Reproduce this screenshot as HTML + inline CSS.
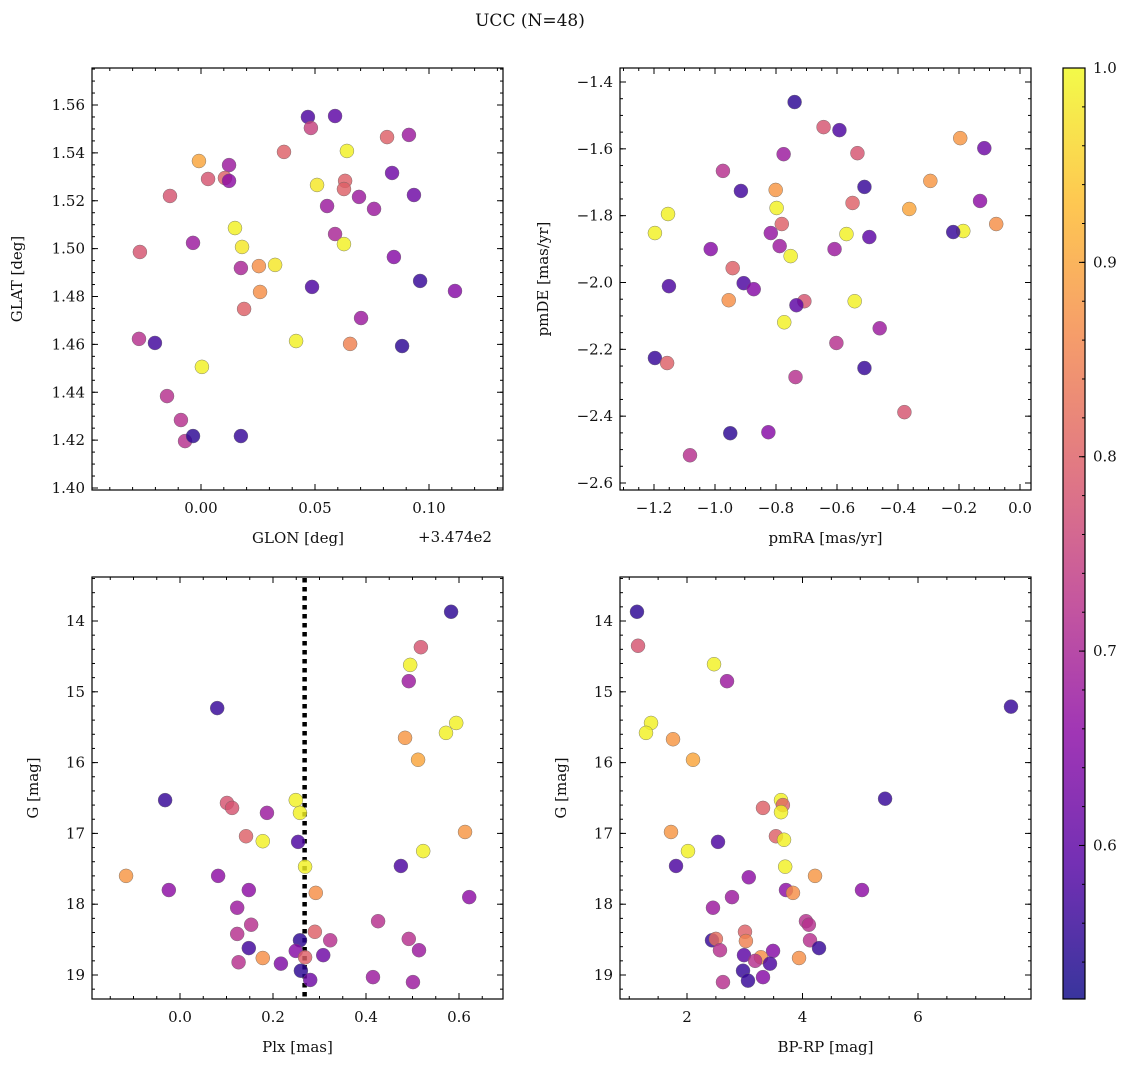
<!DOCTYPE html>
<html><head><meta charset="utf-8"><style>
html,body{margin:0;padding:0;background:#fff}
svg{display:block;font-family:"DejaVu Serif","Liberation Serif",serif}
</style></head><body>
<svg id="c" width="1135" height="1067" xmlns="http://www.w3.org/2000/svg"></svg>
<script>
// ---- data arrays ----
const p1Glon=[0.0469,0.0588,0.0482,0.0816,0.0912,0.0364,0.0640,-0.0009,0.0123,0.0031,0.0105,0.0123,-0.0136,0.0632,0.0509,0.0627,0.0838,0.0693,0.0934,0.0553,0.0759,0.0149,0.0180,0.0588,0.0627,-0.0035,-0.0268,0.0846,0.0254,0.0325,0.0175,0.0259,0.0961,0.0487,0.1114,0.0189,0.0702,-0.0272,-0.0202,0.0417,0.0654,0.0882,0.0004,-0.0149,-0.0088,-0.0070,-0.0035,0.0175];
const p1Glat=[1.555,1.5554,1.5504,1.5466,1.5475,1.5404,1.5408,1.5366,1.5349,1.5291,1.5295,1.5283,1.5220,1.5283,1.5266,1.5249,1.5316,1.5216,1.5224,1.5178,1.5166,1.5086,1.5007,1.5061,1.5019,1.5024,1.4986,1.4965,1.4927,1.4932,1.4919,1.4819,1.4865,1.4840,1.4823,1.4748,1.4710,1.4623,1.4606,1.4614,1.4602,1.4593,1.4506,1.4384,1.4284,1.4196,1.4217,1.4217];
const p1Prob=[0.58,0.6,0.75,0.8,0.68,0.8,0.99,0.9,0.68,0.78,0.8,0.66,0.78,0.8,0.98,0.8,0.62,0.68,0.62,0.68,0.68,0.99,0.98,0.7,0.99,0.68,0.78,0.65,0.87,0.98,0.7,0.87,0.56,0.58,0.65,0.8,0.68,0.72,0.57,0.99,0.85,0.55,0.99,0.72,0.72,0.72,0.55,0.56];

const p2PmRA=[-0.739,-0.644,-0.592,-0.196,-0.117,-0.533,-0.775,-0.974,-0.294,-0.510,-0.801,-0.915,-0.131,-0.363,-0.549,-0.798,-1.154,-0.078,-0.186,-0.781,-1.197,-0.817,-0.569,-0.494,-0.219,-1.014,-0.788,-0.608,-0.942,-0.752,-0.955,-0.906,-0.873,-1.151,-0.707,-0.542,-0.733,-0.773,-0.460,-0.602,-1.197,-1.157,-0.510,-0.736,-0.379,-0.825,-0.950,-1.082];
const p2PmDE=[-1.460,-1.535,-1.544,-1.568,-1.598,-1.613,-1.616,-1.666,-1.696,-1.714,-1.723,-1.726,-1.756,-1.780,-1.762,-1.777,-1.795,-1.825,-1.846,-1.825,-1.852,-1.852,-1.855,-1.864,-1.849,-1.900,-1.891,-1.900,-1.957,-1.921,-2.053,-2.002,-2.020,-2.011,-2.056,-2.056,-2.068,-2.119,-2.137,-2.181,-2.226,-2.241,-2.256,-2.283,-2.388,-2.448,-2.451,-2.517];
const p2Prob=[0.55,0.78,0.58,0.88,0.62,0.78,0.68,0.72,0.88,0.56,0.88,0.57,0.66,0.9,0.8,0.99,0.99,0.87,0.99,0.8,0.99,0.67,0.99,0.6,0.56,0.65,0.68,0.68,0.8,0.99,0.87,0.58,0.65,0.58,0.78,0.99,0.6,0.99,0.68,0.72,0.56,0.8,0.56,0.72,0.78,0.65,0.55,0.72];

const p3Plx=[0.583,0.518,0.495,0.492,0.594,0.572,0.484,0.512,0.080,-0.032,0.249,0.101,0.112,0.187,0.258,0.613,0.142,0.178,0.254,0.523,0.475,0.269,-0.116,0.082,-0.024,0.148,0.292,0.622,0.123,0.153,0.426,0.290,0.123,0.178,0.323,0.492,0.258,0.126,0.148,0.249,0.514,0.308,0.269,0.217,0.260,0.415,0.501,0.280];
const p3G=[13.87,14.37,14.62,14.85,15.44,15.58,15.65,15.96,15.23,16.53,16.53,16.57,16.64,16.71,16.71,16.98,17.04,17.11,17.12,17.25,17.46,17.47,17.60,17.60,17.80,17.80,17.84,17.90,18.05,18.29,18.24,18.39,18.42,18.76,18.51,18.49,18.51,18.82,18.62,18.66,18.65,18.72,18.75,18.84,18.94,19.03,19.10,19.07];
const p3Prob=[0.55,0.78,0.99,0.68,0.99,0.99,0.88,0.9,0.56,0.56,0.99,0.78,0.78,0.68,0.99,0.88,0.8,0.99,0.58,0.99,0.58,0.99,0.88,0.66,0.66,0.66,0.87,0.66,0.68,0.72,0.72,0.8,0.72,0.87,0.72,0.72,0.55,0.72,0.57,0.65,0.68,0.62,0.8,0.64,0.55,0.68,0.68,0.62];

const p4BpRp=[1.134,1.152,2.468,2.693,7.61,1.377,1.29,1.758,2.104,5.43,3.628,3.66,3.316,3.628,1.723,3.54,2.537,3.68,2.017,1.81,3.70,4.217,3.07,3.714,5.03,3.835,2.779,2.45,4.06,4.11,3.004,2.433,2.5,4.13,3.02,4.286,2.571,3.49,2.987,3.28,3.94,3.18,3.437,2.97,3.316,3.056,2.623];
const p4G=[13.87,14.35,14.61,14.85,15.21,15.44,15.58,15.67,15.96,16.51,16.53,16.60,16.64,16.70,16.98,17.04,17.12,17.09,17.25,17.46,17.47,17.60,17.62,17.80,17.80,17.84,17.90,18.05,18.24,18.29,18.39,18.51,18.49,18.51,18.52,18.62,18.65,18.66,18.72,18.75,18.76,18.80,18.84,18.94,19.03,19.08,19.10];
const p4Prob=[0.55,0.78,0.99,0.68,0.56,0.99,0.99,0.88,0.9,0.56,0.99,0.8,0.8,0.99,0.88,0.8,0.58,0.99,0.99,0.58,0.99,0.88,0.66,0.66,0.66,0.87,0.68,0.68,0.72,0.72,0.8,0.56,0.82,0.72,0.85,0.56,0.72,0.65,0.6,0.87,0.87,0.72,0.58,0.56,0.65,0.56,0.72];

const plxLine=0.268;
const cbTicks=[0.6,0.7,0.8,0.9,1.0];
const probMin=0.521, probMax=1.0;

// ---- helpers ----
const NS="http://www.w3.org/2000/svg";
const svg=document.getElementById('c');
function mk(tag,attrs,parent){const e=document.createElementNS(NS,tag);for(const k in attrs)e.setAttribute(k,attrs[k]);(parent||svg).appendChild(e);return e;}
function txt(s,x,y,size,anchor,parent){const t=mk('text',{x:x,y:y,'font-size':size,'text-anchor':anchor||'middle',fill:'#111'},parent);t.textContent=s;return t;}
const stops=[[13,8,135],[84,2,163],[139,10,165],[185,50,137],[219,92,104],[244,136,73],[254,188,43],[240,249,33]];
function plasma(v){let t=(v-probMin)/(probMax-probMin);t=Math.max(0,Math.min(1,t));const f=t*(stops.length-1);const i=Math.min(stops.length-2,Math.floor(f));const r=f-i;const a=stops[i],b=stops[i+1];return `rgb(${Math.round(a[0]+(b[0]-a[0])*r)},${Math.round(a[1]+(b[1]-a[1])*r)},${Math.round(a[2]+(b[2]-a[2])*r)})`;}
function fmt(v,d){const s=v.toFixed(d);return s.replace('-','−');}
function lin(d0,d1,p0,p1){return v=>p0+(v-d0)*(p1-p0)/(d1-d0);}

function panel(o){
  const g=mk('g',{});
  
  
  const X=lin(o.xd[0],o.xd[1],o.xp[0],o.xp[1]);
  const Y=lin(o.yd[0],o.yd[1],o.yp[0],o.yp[1]);
  const L=o.box[0],T=o.box[1],R=o.box[2],B=o.box[3];
  if(o.extra)o.extra(g,X,Y);
  const pts=mk('g',{},g);
  
  
  for(let i=0;i<o.xs.length;i++){
    const c=mk('circle',{cx:X(o.xs[i]),cy:Y(o.ys[i]),r:7,fill:plasma(o.cs[i]),'fill-opacity':0.82,stroke:'#666','stroke-width':0.4},pts);
    
    
  }
  const fr=mk('rect',{x:L,y:T,width:R-L,height:B-T,fill:'none',stroke:'#000','stroke-width':1.2},g);
  
  
  for(let v=o.xmin0;v<=o.xd1max+1e-9;v+=o.xminor){const p=X(v);if(p<L-0.5||p>R+0.5)continue;mk('line',{x1:p,x2:p,y1:B,y2:B-3,stroke:'#000'},g);mk('line',{x1:p,x2:p,y1:T,y2:T+3,stroke:'#000'},g);}
  for(const v of o.xt){const p=X(v);mk('line',{x1:p,x2:p,y1:B,y2:B-6,stroke:'#000'},g);mk('line',{x1:p,x2:p,y1:T,y2:T+6,stroke:'#000'},g);
    const t=txt(fmt(v,o.xdec),p,B+23,15,'middle',g);}
  for(let v=o.ymin0;v<=o.yd1max+1e-9;v+=o.yminor){const p=Y(v);if(p<T-0.5||p>B+0.5)continue;mk('line',{x1:L,x2:L+3,y1:p,y2:p,stroke:'#000'},g);mk('line',{x1:R,x2:R-3,y1:p,y2:p,stroke:'#000'},g);}
  for(const v of o.yt){const p=Y(v);mk('line',{x1:L,x2:L+6,y1:p,y2:p,stroke:'#000'},g);mk('line',{x1:R,x2:R-6,y1:p,y2:p,stroke:'#000'},g);
    const t=txt(fmt(v,o.ydec),L-7,p+5,15,'end',g);}
  const xl=txt(o.xlabel,o.xlx||(L+R)/2,B+53,15,'middle',g);
  const yl=txt(o.ylabel,0,0,15,'middle',g);yl.setAttribute('transform',`translate(${o.ylx},${(T+B)/2}) rotate(-90)`);
}

const tt=txt('UCC (N=48)',530,26,17,'middle');



panel({name:'glon-glat-panel',box:[92,68,503,490],xd:[0,0.05],xp:[201,315],yd:[1.56,1.40],yp:[105,488],
 xs:p1Glon,ys:p1Glat,cs:p1Prob,xt:[0,0.05,0.10],xdec:2,xmin0:-0.05,xd1max:0.14,xminor:0.01,
 yt:[1.40,1.42,1.44,1.46,1.48,1.50,1.52,1.54,1.56],ydec:2,ymin0:1.395,yd1max:1.58,yminor:0.005,
 xlabel:'GLON [deg]',xlx:298,ylabel:'GLAT [deg]',ylx:22});
const off=txt('+3.474e2',455,542,15,'middle');



panel({name:'proper-motion-panel',box:[620,68,1031,490],xd:[-1.2,0.0],xp:[654,1020],yd:[-1.4,-2.6],yp:[82,483],
 xs:p2PmRA,ys:p2PmDE,cs:p2Prob,xt:[-1.2,-1.0,-0.8,-0.6,-0.4,-0.2,0.0],xdec:1,xmin0:-1.35,xd1max:0.05,xminor:0.05,
 yt:[-2.6,-2.4,-2.2,-2.0,-1.8,-1.6,-1.4],ydec:1,ymin0:-2.65,yd1max:-1.35,yminor:0.05,
 xlabel:'pmRA [mas/yr]',ylabel:'pmDE [mas/yr]',ylx:548});

panel({name:'plx-g-panel',box:[92,577,503,999],xd:[0,0.6],xp:[180,459],yd:[14,19],yp:[621,975],
 xs:p3Plx,ys:p3G,cs:p3Prob,xt:[0.0,0.2,0.4,0.6],xdec:1,xmin0:-0.2,xd1max:0.7,xminor:0.05,
 yt:[14,15,16,17,18,19],ydec:0,ymin0:13.4,yd1max:19.4,yminor:0.2,
 xlabel:'Plx [mas]',ylabel:'G [mag]',ylx:38,
 extra:(g,X,Y)=>{const l=mk('line',{x1:X(plxLine),x2:X(plxLine),y1:578,y2:998,stroke:'#000','stroke-width':4.5,'stroke-dasharray':'4.5,4.5'},g);
   
   }});

panel({name:'cmd-panel',box:[620,577,1031,999],xd:[2,6],xp:[687,918],yd:[14,19],yp:[621,975],
 xs:p4BpRp,ys:p4G,cs:p4Prob,xt:[2,4,6],xdec:0,xmin0:1,xd1max:8,xminor:0.5,
 yt:[14,15,16,17,18,19],ydec:0,ymin0:13.4,yd1max:19.4,yminor:0.2,
 xlabel:'BP-RP [mag]',ylabel:'G [mag]',ylx:566});

const cb=mk('g',{});


const defs=mk('defs',{},cb);
const lg=mk('linearGradient',{id:'pl',x1:0,y1:1,x2:0,y2:0},defs);
for(let i=0;i<stops.length;i++){const s=stops[i];mk('stop',{offset:i/(stops.length-1),'stop-color':`rgb(${s[0]},${s[1]},${s[2]})`,'stop-opacity':0.82},lg);}
mk('rect',{x:1063,y:68,width:22,height:931,fill:'url(#pl)',stroke:'#000','stroke-width':1.2},cb);
const CY=lin(probMin,probMax,999,68);
for(let v=0.54;v<=1.0001;v+=0.02){mk('line',{x1:1085,x2:1082,y1:CY(v),y2:CY(v),stroke:'#000'},cb);}
for(const v of cbTicks){const p=CY(v);mk('line',{x1:1085,x2:1079,y1:p,y2:p,stroke:'#000'},cb);
  const t=txt(v.toFixed(1),1093,p+5,15,'start',cb);
  
  }
</script>
</body></html>
